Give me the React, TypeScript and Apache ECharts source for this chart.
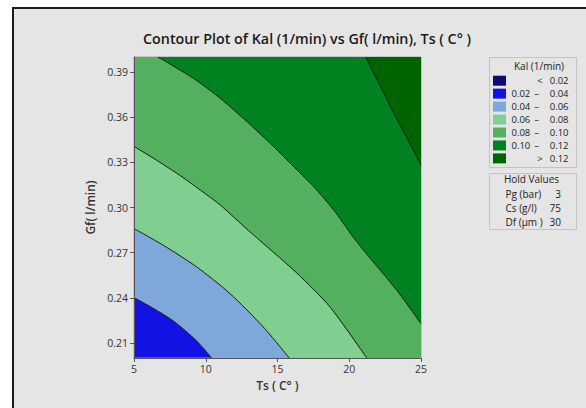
import React, { useEffect, useRef } from 'react';
import * as echarts from 'echarts';

// Axis extents and tick labels
const xMin = 5;
const xMax = 25;
const yMin = 0.2;
const yMax = 0.4;
const xTicks = [5, 10, 15, 20, 25];
const yTicks = [0.21, 0.24, 0.27, 0.3, 0.33, 0.36, 0.39];

// Contour lines [Ts, Gf]
const contour004 = [[5.0, 0.2401], [6.11, 0.2343], [7.74, 0.2246], [9.37, 0.2113], [10.41, 0.2]];
const contour006 = [[5.0, 0.286], [7.04, 0.2749], [9.37, 0.2605], [11.69, 0.2428], [14.01, 0.2206], [15.82, 0.2]];
const contour008 = [[5.0, 0.3406], [6.39, 0.3325], [8.02, 0.3225], [9.65, 0.3114], [11.04, 0.3014], [13.0, 0.2845], [16.34, 0.2565], [18.66, 0.2339], [21.22, 0.2]];
const contour010 = [[6.67, 0.4], [9.18, 0.3856], [11.04, 0.3723], [12.9, 0.3568], [14.76, 0.3402], [15.92, 0.3291], [17.54, 0.3136], [18.94, 0.2981], [20.1, 0.2826], [21.0, 0.2716], [23.31, 0.245], [25.0, 0.2228]];
const contour012 = [[21.14, 0.4], [22.19, 0.3801], [23.12, 0.3623], [24.05, 0.3457], [25.0, 0.328]];

// Colours of the bands
const bandColors = ['#1212e4', '#7fa8da', '#80cf90', '#52b05e', '#008220', '#006400'];
const legendColors = ['#0b0b6f', '#1212e4', '#7fa8da', '#80cf90', '#52b05e', '#008220', '#006400'];
const legendLeft = ['', '0.02', '0.04', '0.06', '0.08', '0.10', ''];
const legendMid = ['<', '–', '–', '–', '–', '–', '>'];
const legendRight = ['0.02', '0.04', '0.06', '0.08', '0.10', '0.12', '0.12'];

const holdNames = ['Pg (bar)', 'Cs (g/l)', 'Df (µm )'];
const holdValues = ['3', '75', '30'];

const FONT = '"Open Sans", "Noto Sans", sans-serif';
const SMOOTH = 0.25;

export default function App() {
  const ref = useRef<HTMLDivElement>(null);

  useEffect(() => {
    if (!ref.current) return;
    const chart = echarts.init(ref.current, undefined, { renderer: 'svg' });

    const contours = [contour004, contour006, contour008, contour010, contour012];

    const series: any[] = [];
    contours.forEach((c, i) => {
      const color = bandColors[i + 1];
      // area above the contour curve
      series.push({
        type: 'line',
        data: c,
        smooth: SMOOTH,
        showSymbol: false,
        silent: true,
        z: 2,
        lineStyle: { width: 0, opacity: 0 },
        areaStyle: { color, opacity: 1, origin: 'end' },
      });
      // everything right of the last chord of a curve that ends on the bottom edge
      const end = c[c.length - 1];
      const prev = c[c.length - 2];
      if (end[0] < xMax) {
        series.push({
          type: 'custom',
          silent: true,
          clip: true,
          z: 2,
          data: [0],
          renderItem: (params: any, api: any) => {
            const pts = [prev, end, [xMax, yMin], [xMax, yMax], [prev[0], yMax]].map((p) => api.coord(p));
            return { type: 'polygon', shape: { points: pts }, style: { fill: color } };
          },
        });
      }
    });
    contours.forEach((c) => {
      series.push({
        type: 'line',
        data: c,
        smooth: SMOOTH,
        showSymbol: false,
        silent: true,
        z: 4,
        lineStyle: { color: '#1a1a1a', width: 1 },
      });
    });

    const graphics: any[] = [];
    graphics.push({
      type: 'rect',
      z: -100,
      silent: true,
      shape: { x: 13, y: 8, width: 700, height: 500 },
      style: { fill: '#e5e5e5', stroke: '#1c1c1c', lineWidth: 2 },
    });
    graphics.push({
      type: 'rect',
      shape: { x: 489.5, y: 57.5, width: 87, height: 110 },
      style: { fill: 'none', stroke: '#c4c4c4', lineWidth: 1 },
    });
    graphics.push({
      type: 'rect',
      shape: { x: 489.5, y: 173.5, width: 87, height: 56 },
      style: { fill: 'none', stroke: '#c4c4c4', lineWidth: 1 },
    });
    graphics.push({
      type: 'text',
      x: 539,
      y: 66,
      style: { text: 'Kal (1/min)', font: `10px ${FONT}`, fill: '#222', align: 'center', verticalAlign: 'middle' },
    });
    legendColors.forEach((c, i) => {
      const cy = 80.7 + i * 12.95;
      graphics.push({
        type: 'rect',
        shape: { x: 493, y: cy - 5, width: 13, height: 10 },
        style: { fill: c },
      });
      if (legendLeft[i]) {
        graphics.push({
          type: 'text', x: 511.5, y: cy,
          style: { text: legendLeft[i], font: `9.5px ${FONT}`, fill: '#222', align: 'left', verticalAlign: 'middle' },
        });
      }
      graphics.push({
        type: 'text', x: legendLeft[i] ? 536.5 : 540, y: cy,
        style: { text: legendMid[i], font: `9.5px ${FONT}`, fill: '#222', align: 'center', verticalAlign: 'middle' },
      });
      graphics.push({
        type: 'text', x: 568.5, y: cy,
        style: { text: legendRight[i], font: `9.5px ${FONT}`, fill: '#222', align: 'right', verticalAlign: 'middle' },
      });
    });
    graphics.push({
      type: 'text', x: 531.5, y: 179,
      style: { text: 'Hold Values', font: `10px ${FONT}`, fill: '#222', align: 'center', verticalAlign: 'middle' },
    });
    holdNames.forEach((n, i) => {
      const cy = 194 + i * 13.8;
      graphics.push({
        type: 'text', x: 505.5, y: cy,
        style: { text: n, font: `10px ${FONT}`, fill: '#222', align: 'left', verticalAlign: 'middle' },
      });
      graphics.push({
        type: 'text', x: 561, y: cy,
        style: { text: holdValues[i], font: `10px ${FONT}`, fill: '#222', align: 'right', verticalAlign: 'middle' },
      });
    });

    chart.setOption({
      animation: false,
      backgroundColor: '#ffffff',
      title: {
        text: 'Contour Plot of Kal (1/min) vs Gf( l/min), Ts ( C° )',
        left: 302,
        top: 26,
        textAlign: 'center',
        textStyle: { fontFamily: FONT, fontSize: 14.3, fontWeight: 600, color: '#1a1a1a' },
      },
      grid: {
        left: 134,
        right: 165,
        top: 57,
        bottom: 50,
        show: true,
        backgroundColor: bandColors[0],
        borderColor: '#a0a0a0',
        borderWidth: 1,
        z: 0,
      },
      xAxis: {
        type: 'value',
        min: xMin,
        max: xMax,
        interval: 5,
        name: 'Ts ( C° )',
        nameLocation: 'middle',
        nameGap: 21,
        nameTextStyle: { fontFamily: FONT, fontSize: 12, fontWeight: 600, color: '#333' },
        axisLine: { show: true, onZero: false, lineStyle: { color: '#555', width: 1 } },
        axisTick: { show: true, length: 4, lineStyle: { color: '#555' }, customValues: xTicks },
        axisLabel: { fontFamily: FONT, fontSize: 10.5, color: '#333', margin: 5, customValues: xTicks },
        splitLine: { show: false },
        z: 10,
      },
      yAxis: {
        type: 'value',
        min: yMin,
        max: yMax,
        name: 'Gf( l/min)',
        nameLocation: 'middle',
        nameGap: 38,
        nameTextStyle: { fontFamily: FONT, fontSize: 12, fontWeight: 600, color: '#333' },
        axisLine: { show: true, onZero: false, lineStyle: { color: '#555', width: 1 } },
        axisTick: { show: true, length: 4, lineStyle: { color: '#555' }, customValues: yTicks },
        axisLabel: {
          fontFamily: FONT, fontSize: 10.5, color: '#333', margin: 6,
          customValues: yTicks,
          formatter: (v: number) => v.toFixed(2),
        },
        splitLine: { show: false },
        z: 10,
      },
      graphic: graphics,
      series,
    } as any);

    return () => chart.dispose();
  }, []);

  return <div ref={ref} style={{ position: 'absolute', left: 0, top: 0, width: 586, height: 408 }} />;
}
